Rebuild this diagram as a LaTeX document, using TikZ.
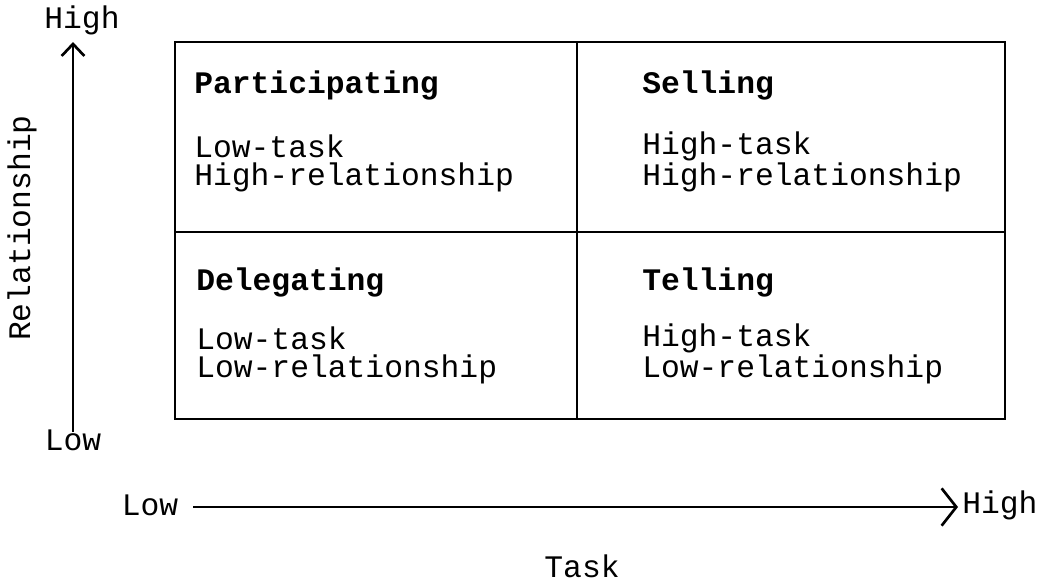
\documentclass[tikz,border=0pt]{standalone}
\usepackage{fontspec}
\setmainfont{Liberation Mono}
\usepackage{tikz}
\usetikzlibrary{positioning,arrows.meta}

\begin{document}
\begin{tikzpicture}[
  x=0.75pt, y=-0.75pt,
  txt/.style={font=\fontsize{23.5}{21}\selectfont, inner sep=0pt},
  cell/.style={txt, anchor=base west, align=left},
  heading/.style={cell, font=\fontsize{23.5}{21}\selectfont\bfseries},
  grid/.style={line width=1.8pt},
  arr/.style={line width=2pt, -{Straight Barb[#1]}},
]
  \useasboundingbox (0,0) rectangle (1048,583);

  % Grid
  \draw[grid] (175,42) rectangle (1005,419);
  \draw[grid] (577,42) -- (577,419);
  \draw[grid] (175,232) -- (1005,232);

  % Quadrants (description nodes sit on their last line)
  \node[heading] (part) at (194,93) {Participating};
  \node[cell] (partdesc) at (194,185) {Low-task\\High-relationship};
  \node[heading] (sell) at (642,93) {Selling};
  \node[cell] (selldesc) at (642,185) {High-task\\High-relationship};
  \node[heading] (deleg) at (196,290) {Delegating};
  \node[cell] (delegdesc) at (196,377) {Low-task\\Low-relationship};
  \node[heading] (tell) at (642,290) {Telling};
  \node[cell] (telldesc) at (642,377) {High-task\\Low-relationship};

  % Relationship axis
  \node[txt, anchor=base] (relhigh) at (82,28) {High};
  \node[txt, anchor=base] (rellow) at (73,450) {Low};
  \node[txt, anchor=base, rotate=90] (relname) at (30,228) {Relationship};
  \coordinate (relbot) at (73,432);
  \coordinate (reltop) at (73,42);
  \draw[arr={length=9pt, width=17pt}] (relbot) -- (reltop);

  % Task axis
  \node[txt, anchor=base] (tasklow) at (150,515) {Low};
  \node[txt, anchor=base west] (taskhigh) at (962,513) {High};
  \node[txt, anchor=base] (taskname) at (582,577) {Task};
  \coordinate (taskstart) at (193,507);
  \coordinate (taskend) at (958,507);
  \draw[arr={length=11pt, width=28pt}] (taskstart) -- (taskend);
\end{tikzpicture}
\end{document}
